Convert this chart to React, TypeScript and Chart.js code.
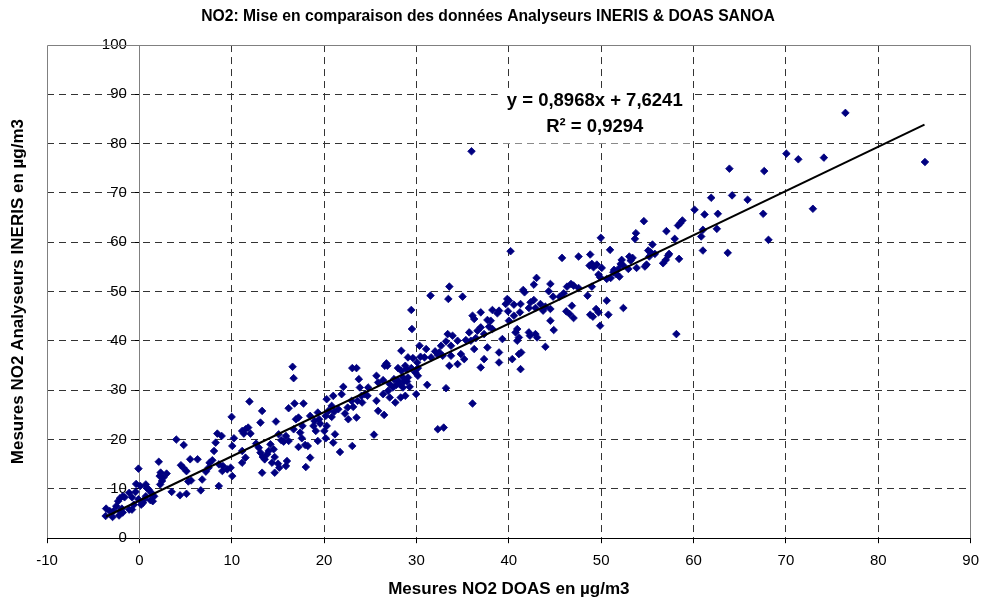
import { useEffect, useRef } from 'react';
import { Chart, registerables } from 'chart.js';

Chart.register(...registerables);

const chartTitle = 'NO2: Mise en comparaison des données Analyseurs INERIS & DOAS SANOA';
const xAxisTitle = 'Mesures NO2 DOAS en µg/m3';
const yAxisTitle = 'Mesures NO2 Analyseurs INERIS en µg/m3';
const equationLines = ['y = 0,8968x + 7,6241', 'R² = 0,9294'];

const xMin = -10;
const xMax = 90;
const yMin = 0;
const yMax = 100;
const tickStep = 10;

// regression line end points (DOAS, INERIS)
const trendLine: [number, number][] = [[-3.6, 4.4], [85, 83.85]];

// label box extent in data units: [xFrom, xTo, yFrom, yTo]
const equationBox = [38.8, 59.8, 80.05, 91.3];

// measured pairs [DOAS, INERIS]
const lowBand: [number, number][] = [
  [-3.6, 6.0], [-3.65, 4.5], [-3.2, 5.5], [-2.9, 4.3], [-2.8, 5.5], [-2.5, 6.5], [-2.3, 7.5], [-2.1, 8.1],
  [-1.8, 8.5], [-1.6, 8.3], [-2.1, 5.5], [-1.9, 6.0], [-2.2, 4.6], [-1.8, 5.2], [-1.1, 5.8], [-0.8, 5.8],
  [-0.6, 6.8], [-0.8, 8.3], [-1.1, 9.2], [-0.4, 9.4], [-0.35, 11.0], [-0.1, 14.1], [0.1, 10.6], [-0.1, 7.9],
  [0.2, 6.8], [0.4, 7.2], [0.55, 7.9], [0.8, 10.2], [0.7, 10.9], [1.0, 9.9], [1.3, 9.2], [1.2, 7.7],
  [1.45, 7.5], [1.6, 8.5], [0.7, 8.5], [2.1, 15.5], [2.2, 12.6], [2.3, 13.3], [2.6, 12.3], [2.95, 13.1],
  [2.45, 11.6], [2.25, 10.9], [3.5, 9.4], [4.0, 20.0], [4.8, 18.9], [4.4, 8.7], [5.1, 9.0], [4.5, 14.8],
  [4.75, 14.3], [5.1, 13.6], [5.3, 11.5], [5.6, 11.7], [5.5, 16.0], [6.3, 16.0], [6.65, 9.7], [6.8, 11.9],
  [7.2, 13.5], [7.5, 14.3], [7.6, 15.3], [7.9, 15.8], [8.6, 10.6],
];

const secondBand: [number, number][] = [
  [16.59, 34.76], [16.7, 32.45], [11.92, 27.71], [9.99, 24.6], [13.29, 25.81], [13.11, 23.44], [8.44, 21.21],
  [8.91, 20.73], [8.26, 19.38], [8.08, 17.69], [8.62, 14.97], [9.05, 14.64], [9.52, 13.96], [9.88, 14.3],
  [10.06, 12.6], [8.98, 13.62], [10.24, 20.26], [10.06, 18.7], [11.13, 21.75], [11.49, 22.09], [11.78, 22.43],
  [12.03, 21.21], [11.31, 21.21], [11.13, 17.69], [11.49, 16.33], [11.13, 15.31], [12.64, 19.18], [12.93, 18.36],
  [13.11, 17.35], [13.36, 16.46], [13.57, 15.99], [13.83, 17.01], [14.0, 17.69], [14.19, 19.04], [14.54, 18.03],
  [14.65, 16.46], [14.36, 15.31], [14.79, 23.65], [15.08, 21.07], [15.37, 19.85], [15.62, 19.58], [15.87, 20.73],
  [16.16, 19.72], [15.01, 15.11], [15.15, 14.3], [15.87, 14.64], [15.98, 15.65], [13.29, 13.28], [14.65, 13.28],
  [16.16, 26.36], [16.8, 27.31], [17.77, 27.31], [17.23, 24.46], [16.95, 24.12], [16.7, 22.09], [17.41, 21.41],
  [17.59, 20.26], [17.23, 18.5], [17.95, 18.91], [18.24, 18.7], [18.49, 16.33], [18.02, 14.43], [17.66, 22.77],
  [18.49, 24.8], [18.96, 23.78], [18.85, 22.77], [19.32, 25.48], [19.46, 24.12], [19.1, 21.75], [19.32, 19.72],
  [19.57, 23.24], [20.03, 21.75], [20.18, 20.26], [20.28, 22.77], [20.18, 24.8], [20.46, 25.81], [20.28, 28.19],
  [20.99, 28.86], [20.82, 26.83], [20.82, 24.6], [21.11, 25.68], [21.18, 21.07], [20.99, 19.38], [21.72, 17.48],
  [21.54, 26.15], [21.9, 29.2], [22.08, 30.69], [22.26, 25.27], [22.55, 26.49], [22.62, 24.12], [22.98, 27.85],
  [23.15, 26.63], [23.05, 34.49], [23.51, 34.49], [23.76, 32.25], [23.51, 24.46], [23.05, 18.7], [23.62, 27.85],
  [24.05, 28.86], [24.12, 27.51], [24.41, 29.2], [23.87, 30.56],
];

const thirdBand: [number, number][] = [
  [31.52, 49.19], [29.44, 46.28], [29.51, 42.42], [33.2, 30.42], [31.16, 31.1], [30.87, 36.66], [30.44, 36.79],
  [30.08, 35.64], [30.15, 32.93], [29.97, 29.21], [36.07, 27.31], [32.95, 22.43], [32.31, 22.09], [28.36, 38.01],
  [29.08, 36.66], [29.62, 36.52], [28.9, 34.29], [28.36, 33.95], [28.54, 32.59], [28.0, 31.92], [28.98, 31.78],
  [29.26, 30.69], [28.79, 28.87], [28.29, 28.53], [27.71, 27.51], [26.75, 35.44], [26.57, 34.96], [26.85, 34.96],
  [24.77, 30.56], [25.67, 32.93], [25.85, 31.58], [26.39, 32.05], [27.11, 31.24], [26.93, 29.88], [27.46, 30.56],
  [27.82, 31.1], [28.54, 30.56], [26.39, 29.21], [27.11, 28.53], [25.67, 27.85], [25.85, 25.82], [26.5, 25.0],
  [24.7, 28.87], [31.05, 38.35], [32.02, 37.88], [31.59, 36.66], [30.33, 39.03], [32.31, 37.2], [25.4, 21.0],
  [28.0, 34.49], [28.79, 34.96], [29.44, 34.49], [29.87, 33.6], [29.08, 32.59], [28.65, 31.78], [28.18, 31.24],
  [27.57, 32.25], [30.15, 34.49],
];

const fourthBand: [number, number][] = [
  [40.19, 58.2], [43.0, 52.78], [42.71, 51.42], [44.5, 51.56], [44.32, 50.07], [41.56, 50.34], [41.7, 49.86],
  [44.79, 48.98], [33.56, 51.02], [33.45, 48.51], [34.99, 48.98], [39.83, 48.51], [40.01, 48.17], [39.66, 47.49],
  [40.55, 47.36], [41.27, 47.49], [42.35, 47.83], [42.71, 48.3], [43.42, 47.49], [43.96, 46.95], [44.5, 46.48],
  [43.71, 46.14], [42.88, 46.68], [42.17, 46.68], [41.2, 45.8], [40.55, 45.12], [39.91, 46.0], [40.01, 44.1],
  [38.94, 46.14], [38.76, 45.6], [38.22, 46.27], [38.04, 44.1], [37.68, 44.25], [36.96, 45.8], [36.07, 45.12],
  [36.25, 44.45], [36.96, 42.75], [37.86, 42.89], [38.22, 42.41], [37.32, 41.39], [36.61, 42.07], [35.71, 41.73],
  [36.43, 40.58], [35.89, 40.04], [35.35, 40.17], [34.45, 40.04], [33.91, 41.06], [33.38, 41.39], [33.2, 39.9],
  [33.74, 39.02], [32.66, 39.02], [32.48, 37.67], [32.84, 36.99], [33.74, 36.99], [34.81, 37.33], [35.17, 36.31],
  [34.45, 35.3], [33.56, 34.96], [36.25, 38.35], [37.68, 38.68], [37.32, 36.31], [38.94, 37.67], [38.94, 35.64],
  [39.3, 40.38], [40.91, 42.41], [40.73, 41.73], [41.09, 40.71], [40.91, 40.04], [40.37, 36.31], [41.27, 34.28],
  [41.34, 37.67], [41.09, 37.33], [42.17, 41.73], [42.28, 41.06], [42.88, 41.39], [43.06, 40.71], [43.96, 38.82],
  [44.86, 42.21], [44.5, 44.1], [36.96, 34.62],
];

const fifthBand: [number, number][] = [
  [54.62, 64.29], [57.06, 62.26], [53.76, 61.85], [53.65, 60.7], [57.96, 60.7], [55.55, 59.55], [55.09, 58.33],
  [55.34, 57.99], [55.81, 57.65], [55.2, 57.11], [54.91, 55.48], [54.73, 55.08], [53.83, 54.81], [53.19, 56.3],
  [53.4, 56.84], [53.04, 57.11], [52.22, 56.43], [52.11, 55.62], [52.4, 55.28], [52.94, 54.6], [51.86, 54.6],
  [50.96, 58.47], [49.96, 60.91], [48.81, 57.52], [47.55, 57.11], [45.76, 56.84], [48.74, 55.28], [49.17, 54.94],
  [48.99, 55.62], [49.53, 55.48], [50.06, 54.81], [49.71, 53.45], [49.88, 52.91], [50.6, 52.57], [51.03, 52.77],
  [51.32, 53.93], [51.61, 53.59], [51.97, 53.04], [51.39, 54.4], [57.24, 57.31], [56.99, 56.43], [56.7, 55.75],
  [57.35, 57.65], [46.3, 51.01], [46.73, 51.56], [47.01, 51.22], [47.55, 50.74], [48.99, 51.01], [45.94, 49.66],
  [45.51, 48.98], [48.52, 49.18], [46.83, 47.15], [50.6, 48.17], [46.22, 46.0], [46.58, 45.46], [47.01, 44.64],
  [48.81, 45.32], [49.1, 44.92], [49.45, 46.48], [49.71, 45.8], [50.78, 45.32], [52.4, 46.68], [49.88, 43.09],
  [58.14, 41.39],
];

const upperBand: [number, number][] = [
  [76.44, 86.24], [70.05, 77.98], [71.34, 76.83], [74.11, 77.17], [63.88, 74.93], [67.65, 74.45], [64.17, 69.51],
  [61.91, 69.03], [65.85, 68.63], [60.11, 66.6], [61.19, 65.65], [62.63, 65.78], [67.54, 65.78], [72.92, 66.8],
  [58.79, 64.43], [58.57, 63.89], [58.32, 63.41], [61.01, 62.53], [62.52, 62.73], [60.83, 61.18], [68.11, 60.5],
  [61.01, 58.33], [63.7, 57.86], [58.43, 56.64], [85.05, 76.28], [35.96, 78.46],
];

const FONT = '"Liberation Sans", Arial, sans-serif';
const MARKER = '#000080';
const GRID = '#333333';
const FRAME = '#808080';
const DASH = [7, 5];

const framePlugin = {
  id: 'plotFrame',
  beforeDatasetsDraw(chart: any) {
    const { ctx, chartArea: a } = chart;
    const l = Math.round(a.left) + 0.5;
    const r = Math.round(a.right) - 0.5;
    const t = Math.round(a.top) + 0.5;
    const b = Math.round(a.bottom);
    ctx.save();
    ctx.strokeStyle = FRAME;
    ctx.lineWidth = 1;
    ctx.beginPath();
    ctx.moveTo(l, b);
    ctx.lineTo(l, t);
    ctx.lineTo(r, t);
    ctx.lineTo(r, b);
    ctx.stroke();
    ctx.restore();
  },
};

const equationPlugin = {
  id: 'equationLabel',
  afterDatasetsDraw(chart: any) {
    const { ctx, scales } = chart;
    const xs = scales.x;
    const ys = scales.y;
    const l = xs.getPixelForValue(equationBox[0]);
    const r = xs.getPixelForValue(equationBox[1]);
    const b = ys.getPixelForValue(equationBox[2]);
    const t = ys.getPixelForValue(equationBox[3]);
    ctx.save();
    ctx.fillStyle = '#ffffff';
    ctx.fillRect(l, t, r - l, b - t);
    ctx.fillStyle = '#000000';
    ctx.font = `bold 18.5px ${FONT}`;
    ctx.textAlign = 'center';
    ctx.textBaseline = 'middle';
    const cx = (l + r) / 2;
    ctx.fillText(equationLines[0], cx, t + 12.5);
    ctx.fillText(equationLines[1], cx, t + 38.5);
    ctx.restore();
  },
};

const edgeColor = (value: number, hidden: number[]) => (hidden.includes(value) ? 'rgba(0,0,0,0)' : GRID);

export default function App() {
  const canvasRef = useRef<HTMLCanvasElement | null>(null);

  useEffect(() => {
    document.body.style.margin = '0';
    const canvas = canvasRef.current;
    if (!canvas) return;
    const points = [...lowBand, ...secondBand, ...thirdBand, ...fourthBand, ...fifthBand, ...upperBand].map(
      ([x, y]) => ({ x, y }),
    );
    const chart = new Chart(canvas, {
      type: 'scatter',
      data: {
        datasets: [
          {
            label: 'Tendance',
            data: trendLine.map(([x, y]) => ({ x, y })),
            showLine: true,
            borderColor: '#000000',
            borderWidth: 2,
            pointRadius: 0,
            pointHoverRadius: 0,
          },
          {
            label: 'Mesures',
            data: points,
            pointStyle: 'rectRot',
            pointRadius: 3.8,
            pointBorderWidth: 0.8,
            backgroundColor: MARKER,
            borderColor: MARKER,
          },
        ],
      },
      options: {
        responsive: false,
        animation: false,
        layout: { padding: { left: 0, right: 12, top: 0, bottom: 0 } },
        plugins: {
          legend: { display: false },
          tooltip: { enabled: false },
          title: {
            display: true,
            text: chartTitle,
            color: '#000000',
            font: { family: FONT, size: 15.7, weight: 'bold' },
            padding: { top: 7.6, bottom: 18.6 },
          },
        },
        scales: {
          x: {
            type: 'linear',
            min: xMin,
            max: xMax,
            ticks: { stepSize: tickStep, color: '#000000', font: { family: FONT, size: 15 }, padding: 9 },
            grid: {
              color: (c: any) => edgeColor(c.tick?.value, [xMin, 0, xMax]),
              tickColor: '#000000',
              tickLength: 5,
              tickBorderDash: [],
            },
            border: { display: true, color: '#000000', width: 1, dash: DASH },
            title: {
              display: true,
              text: xAxisTitle,
              color: '#000000',
              font: { family: FONT, size: 17, weight: 'bold' },
              padding: { top: 0, bottom: 1.4 },
            },
          },
          y: {
            type: 'linear',
            position: 'left',
            min: yMin,
            max: yMax,
            ticks: { display: false, stepSize: tickStep },
            grid: {
              color: (c: any) => edgeColor(c.tick?.value, [yMin, yMax]),
              drawTicks: false,
            },
            border: { display: false, dash: DASH },
            title: {
              display: true,
              text: yAxisTitle,
              color: '#000000',
              font: { family: FONT, size: 17, weight: 'bold' },
              padding: { top: 7.8, bottom: 18.8 },
            },
          },
          y2: {
            type: 'linear',
            position: { x: 0 },
            min: yMin,
            max: yMax,
            ticks: {
              stepSize: tickStep,
              color: '#000000',
              font: { family: FONT, size: 15 },
              callback: (v: any) => `${v}   `,
            },
            grid: { drawOnChartArea: false, tickLength: 4, tickColor: '#000000' },
            border: { display: true, color: FRAME, width: 1 },
          },
        },
      },
      plugins: [framePlugin, equationPlugin],
    });
    return () => chart.destroy();
  }, []);

  return (
    <div style={{ width: 988, height: 601, overflow: 'hidden' }}>
      <canvas ref={canvasRef} width={988} height={601} style={{ display: 'block' }} />
    </div>
  );
}
